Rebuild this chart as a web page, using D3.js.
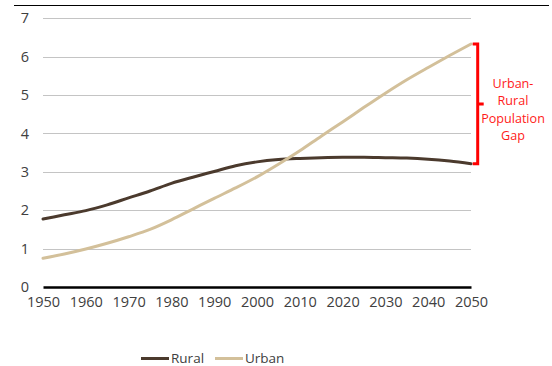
<!DOCTYPE html>
<html><head><meta charset="utf-8">
<script src="https://cdn.jsdelivr.net/npm/d3@7/dist/d3.min.js"></script>
<style>
html,body{margin:0;padding:0;background:#fff;}
text{font-family:"Open Sans",sans-serif;}
</style></head>
<body>
<svg id="c" width="552" height="366"></svg>
<script>
const years = [1950,1955,1960,1965,1970,1975,1980,1985,1990,1995,2000,2005,2010,2015,2020,2025,2030,2035,2040,2045,2050];
const rural = [1.77,1.88,1.99,2.14,2.32,2.50,2.70,2.86,3.01,3.16,3.26,3.32,3.35,3.37,3.38,3.38,3.37,3.36,3.33,3.28,3.21];
const urban = [0.75,0.86,0.99,1.14,1.31,1.50,1.75,2.03,2.31,2.58,2.87,3.20,3.55,3.93,4.30,4.68,5.05,5.40,5.72,6.03,6.33];
const xTicks = [1950,1960,1970,1980,1990,2000,2010,2020,2030,2040,2050];
const yTicks = [0,1,2,3,4,5,6,7];
const seriesNames = ["Rural","Urban"];
const seriesColors = ["#4b3a2d","#d3c09a"];
const annotationLines = ["Urban-","Rural","Population","Gap"];

const svg = d3.select("#c");
const x = d3.scaleLinear().domain([1950,2050]).range([43,471]);
const y = d3.scaleLinear().domain([0,7]).range([287,18.3]);

// top border
svg.append("line").attr("x1",14).attr("x2",549).attr("y1",5.5).attr("y2",5.5)
  .attr("stroke","#000").attr("stroke-width",1);

// gridlines
svg.append("g").selectAll("line").data(yTicks.filter(d=>d>0)).join("line")
  .attr("x1",x(1950)).attr("x2",x(2050))
  .attr("y1",d=>Math.round(y(d))+0.5).attr("y2",d=>Math.round(y(d))+0.5)
  .attr("stroke","#c4c4c4").attr("stroke-width",1);

// y axis labels
const yAxis = d3.axisLeft(y).tickValues(yTicks).tickFormat(d3.format("d")).tickSize(0).tickPadding(14);
const gy = svg.append("g").attr("transform",`translate(${x(1950)},0)`).call(yAxis);
gy.select(".domain").remove();
gy.selectAll("text").attr("font-family","Open Sans").attr("font-size",14.5).attr("fill","#404040");

// x axis
const xAxis = d3.axisBottom(x).tickValues(xTicks).tickFormat(d3.format("d")).tickSize(0).tickPadding(10);
const gx = svg.append("g").attr("transform",`translate(0,${y(0)})`).call(xAxis);
gx.select(".domain").attr("stroke","#000").attr("stroke-width",2.5);
gx.selectAll("text").attr("font-family","Open Sans").attr("font-size",14.5).attr("fill","#404040");

// lines
const line = d3.line().x((d,i)=>x(years[i])).y(d=>y(d)).curve(d3.curveMonotoneX);
[rural,urban].forEach((s,i)=>{
  svg.append("path").datum(s).attr("d",line).attr("fill","none")
    .attr("stroke",seriesColors[i]).attr("stroke-width",3).attr("stroke-linecap","round");
});

// bracket
const yt = y(urban[urban.length-1]), yb = y(rural[rural.length-1]);
const bx = 477.7, ym = (yt+yb)/2;
svg.append("path")
  .attr("d",`M${bx-5},${yt} L${bx},${yt} L${bx},${yb} L${bx-5},${yb} M${bx},${ym} L${bx+6},${ym}`)
  .attr("fill","none").attr("stroke","#ff0000").attr("stroke-width",3);
const ann = svg.append("text").attr("text-anchor","middle")
  .attr("font-size",12.6).attr("fill","#ff1a1a");
ann.selectAll("tspan").data(annotationLines).join("tspan")
  .attr("x",513).attr("y",(d,i)=>88+i*17.4).text(d=>d);

// legend
const legX = [141,215];
seriesNames.forEach((n,i)=>{
  svg.append("line").attr("x1",legX[i]).attr("x2",legX[i]+28).attr("y1",358.5).attr("y2",358.5)
    .attr("stroke",seriesColors[i]).attr("stroke-width",3);
  svg.append("text").attr("x",legX[i]+30).attr("y",362.5).attr("font-size",13.5)
    .attr("fill","#404040").text(n);
});
</script>
</body></html>
